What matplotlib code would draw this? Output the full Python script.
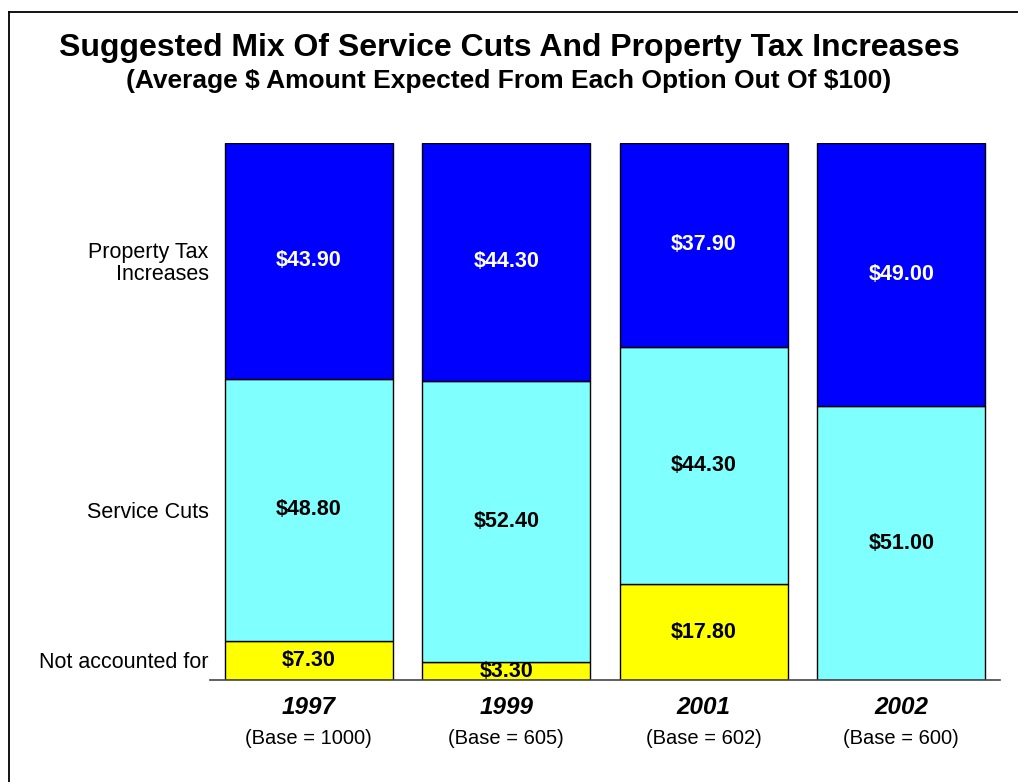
import matplotlib.pyplot as plt
import matplotlib.transforms as mtransforms
from matplotlib.lines import Line2D
import numpy as np

plt.rcParams['font.family'] = ['Liberation Sans', 'DejaVu Sans']

years = ['1997', '1999', '2001', '2002']
bases = ['(Base = 1000)', '(Base = 605)', '(Base = 602)', '(Base = 600)']
not_accounted = [7.3, 3.3, 17.8, 0.0]
service_cuts = [48.8, 52.4, 44.3, 51.0]
property_tax = [43.9, 44.3, 37.9, 49.0]
row_labels = ['Not accounted for', 'Service Cuts', 'Property Tax\nIncreases']

colors = ['#FFFF00', '#80FFFF', '#0000FF']
text_colors = ['black', 'black', 'white']

fig = plt.figure(figsize=(10.18, 7.82), dpi=100)
fig.patch.set_facecolor('white')
# frame around the page (left and top edges visible)
fx, fy = 9 / 1018, 1 - 12 / 782
fig.lines.append(Line2D([fx, fx], [0, fy], transform=fig.transFigure, color='black', lw=1.3))
fig.lines.append(Line2D([fx, 1], [fy, fy], transform=fig.transFigure, color='black', lw=1.3))

ax = fig.add_axes([210 / 1018, 1 - 680 / 782, 790 / 1018, 537 / 782])
x = np.arange(len(years))
bottom = np.zeros(len(years))
series = [not_accounted, service_cuts, property_tax]
for vals, col, tcol in zip(series, colors, text_colors):
    vals = np.array(vals)
    ax.bar(x, vals, 0.85, bottom=bottom, color=col, edgecolor='black', linewidth=1)
    for xi, b, v in zip(x, bottom, vals):
        if v > 0:
            ax.text(xi, b + v / 2, f'\\${v:.2f}', ha='center', va='center',
                    color=tcol, fontsize=15.5, fontweight='bold')
    bottom = bottom + vals

ax.set_xlim(-0.5, len(years) - 0.5)
ax.set_ylim(0, 100)

# row labels placed at the middle of the first bar's segments
first = [s[0] for s in series]
mids = np.cumsum(first) - np.array(first) / 2
ax.set_yticks(mids)
ax.set_yticklabels(row_labels, fontsize=15.5, linespacing=1.05)
ax.tick_params(axis='y', length=0, pad=1)
ax.set_xticks([])
for s in ['top', 'right', 'left']:
    ax.spines[s].set_visible(False)
ax.spines['bottom'].set_color('#444444')
ax.spines['bottom'].set_linewidth(1.2)

trans = mtransforms.blended_transform_factory(ax.transData, ax.transAxes)
for xi, yr, b in zip(x, years, bases):
    ax.text(xi, -28 / 537, yr, transform=trans, ha='center', va='center',
            fontsize=17.5, fontweight='bold', fontstyle='italic')
    ax.text(xi, -59 / 537, b, transform=trans, ha='center', va='center', fontsize=14.5)

fig.text(0.5, 1 - 48 / 782, 'Suggested Mix Of Service Cuts And Property Tax Increases',
         ha='center', va='center', fontsize=23, fontweight='bold')
fig.text(0.5, 1 - 81 / 782, '(Average \\$ Amount Expected From Each Option Out Of \\$100)',
         ha='center', va='center', fontsize=19, fontweight='bold')

plt.savefig('out.png', dpi=100)
